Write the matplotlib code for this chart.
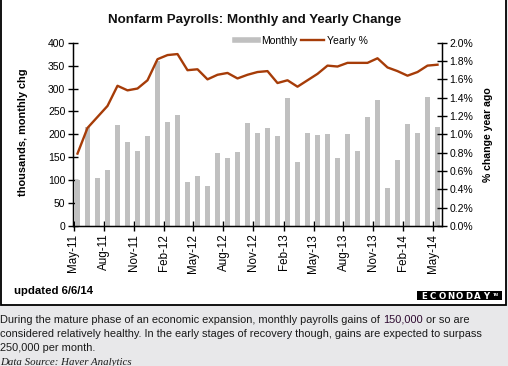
import numpy as np
import matplotlib
matplotlib.use('Agg')
import matplotlib.pyplot as plt
from matplotlib.lines import Line2D
from matplotlib.patches import Rectangle

plt.rcParams['font.family'] = ['Liberation Sans', 'DejaVu Sans']

# Données : emplois non agricoles, mai 2011 - mai 2014
months = ['May-11', 'Jun-11', 'Jul-11', 'Aug-11', 'Sep-11', 'Oct-11', 'Nov-11', 'Dec-11',
          'Jan-12', 'Feb-12', 'Mar-12', 'Apr-12', 'May-12', 'Jun-12', 'Jul-12', 'Aug-12',
          'Sep-12', 'Oct-12', 'Nov-12', 'Dec-12', 'Jan-13', 'Feb-13', 'Mar-13', 'Apr-13',
          'May-13', 'Jun-13', 'Jul-13', 'Aug-13', 'Sep-13', 'Oct-13', 'Nov-13', 'Dec-13',
          'Jan-14', 'Feb-14', 'Mar-14', 'Apr-14', 'May-14']
monthly = [100, 215, 105, 122, 220, 183, 164, 196, 361, 227, 242, 96, 109, 87, 159, 148,
           161, 225, 203, 214, 196, 279, 140, 203, 199, 201, 148, 201, 164, 238, 275, 84,
           144, 222, 203, 282, 216]
yearly = [0.79, 1.07, 1.19, 1.31, 1.53, 1.48, 1.50, 1.59, 1.82, 1.865, 1.876, 1.70, 1.71,
          1.60, 1.65, 1.67, 1.61, 1.65, 1.68, 1.69, 1.56, 1.59, 1.52, 1.59, 1.66, 1.75,
          1.74, 1.78, 1.78, 1.78, 1.83, 1.73, 1.69, 1.64, 1.68, 1.75, 1.76]
tick_labels = months[::3]

bar_color = '#c0c0c0'
line_color = '#a63c08'
txt_size = 7.9

fig = plt.figure(figsize=(5.08, 3.66), dpi=100, facecolor='#e8e8ea')

# Cadre blanc du graphique
fig.patches.append(Rectangle((1 / 508, 1 - 305 / 366), 505 / 508, 305 / 366 + 0.01,
                             transform=fig.transFigure, facecolor='white',
                             edgecolor='black', linewidth=1.3, zorder=-5))

ax = fig.add_axes([73 / 508, 1 - 226 / 366, 368.7 / 508, 183.3 / 366])
ax.set_facecolor('none')
x = np.arange(len(months))
ax.bar(x, monthly, width=0.5, color=bar_color, zorder=2)
ax.set_xlim(-0.45, 36.42)
ax.set_ylim(0, 400)
ax.set_yticks(np.arange(0, 401, 50))
ax.set_xticks(np.arange(0, len(months), 3) - 0.4)
ax.set_xticklabels(tick_labels, rotation=90)
ax.tick_params(axis='both', direction='inout', length=7, width=1, labelsize=7.5, pad=2)
ax.tick_params(axis='x', labelsize=8.4)
ax.spines['top'].set_visible(False)
for s in ['left', 'right', 'bottom']:
    ax.spines[s].set_linewidth(1)

ax2 = ax.twinx()
ax2.plot(x, yearly, color=line_color, linewidth=1.7, zorder=3)
ax2.set_ylim(0, 2.0)
ax2.set_yticks(np.arange(0, 2.01, 0.2))
ax2.set_yticklabels([f'{v:.1f}%' for v in np.arange(0, 2.01, 0.2)])
ax2.tick_params(axis='y', direction='inout', length=7, width=1, labelsize=7.5, pad=2)
ax2.spines['top'].set_visible(False)

# Légende
handles = [Line2D([], [], color=bar_color, linewidth=4),
           Line2D([], [], color=line_color, linewidth=1.7)]
ax2.legend(handles, ['Monthly', 'Yearly %'], ncol=2, frameon=False, loc='center',
           bbox_to_anchor=(0.62, 1.01), fontsize=7.5, handlelength=2.2,
           handletextpad=0.25, columnspacing=0.4, borderpad=0)

# Textes
fig.text(255 / 508, 1 - 20 / 366, 'Nonfarm Payrolls: Monthly and Yearly Change',
         ha='center', va='center', fontsize=9.65, fontweight='bold', color='#111111')
fig.text(23 / 508, 1 - 132 / 366, 'thousands, monthly chg', rotation=90,
         ha='center', va='center', fontsize=7.9, fontweight='bold')
fig.text(488 / 508, 1 - 135 / 366, '% change year ago', rotation=90,
         ha='center', va='center', fontsize=7.6, fontweight='bold')
fig.text(14 / 508, 1 - 291 / 366, 'updated 6/6/14', ha='left', va='center',
         fontsize=8.2, fontweight='bold')

# Logo ECONODAY
fig.patches.append(Rectangle((417 / 508, 1 - 300 / 366), 85 / 508, 9 / 366,
                             transform=fig.transFigure, facecolor='black', zorder=3))
for i, ch in enumerate('ECONODAY'):
    fig.text((424 + i * 8.9) / 508, 1 - 299 / 366, ch, ha='center', va='baseline',
             fontsize=6.2, fontweight='bold', color='white', zorder=6,
             family=['DejaVu Sans'])
fig.text(496 / 508, 1 - 296 / 366, 'TM', ha='center', va='baseline',
         fontsize=3, fontweight='bold', color='white', zorder=6)

# Texte explicatif sous le graphique
t1 = fig.text(0.5 / 508, 1 - 325 / 366,
              'During the mature phase of an economic expansion, monthly payrolls gains of ',
              ha='left', va='bottom', fontsize=txt_size, color='#1a1a1a')
fig.canvas.draw()
r = fig.canvas.get_renderer()
bb = t1.get_window_extent(r)
t2 = fig.text(bb.x1 / fig.bbox.width, bb.y0 / fig.bbox.height, '150,000',
              ha='left', va='bottom', fontsize=txt_size, color='#2e0a30')
bb2 = t2.get_window_extent(r)
fig.text(bb2.x1 / fig.bbox.width, bb2.y0 / fig.bbox.height, ' or so are',
         ha='left', va='bottom', fontsize=txt_size, color='#1a1a1a')
fig.text(0.5 / 508, 1 - 339 / 366,
         'considered relatively healthy. In the early stages of recovery though, gains are expected to surpass',
         ha='left', va='bottom', fontsize=txt_size, color='#1a1a1a')
fig.text(0.5 / 508, 1 - 353 / 366, '250,000 per month.',
         ha='left', va='bottom', fontsize=txt_size, color='#1a1a1a')
fig.text(0.5 / 508, 1 - 367 / 366, 'Data Source: Haver Analytics',
         ha='left', va='bottom', fontsize=7.8, style='italic', color='#1a1a1a',
         family=['Liberation Serif'])

fig.savefig('out.png', dpi=100, facecolor=fig.get_facecolor())
